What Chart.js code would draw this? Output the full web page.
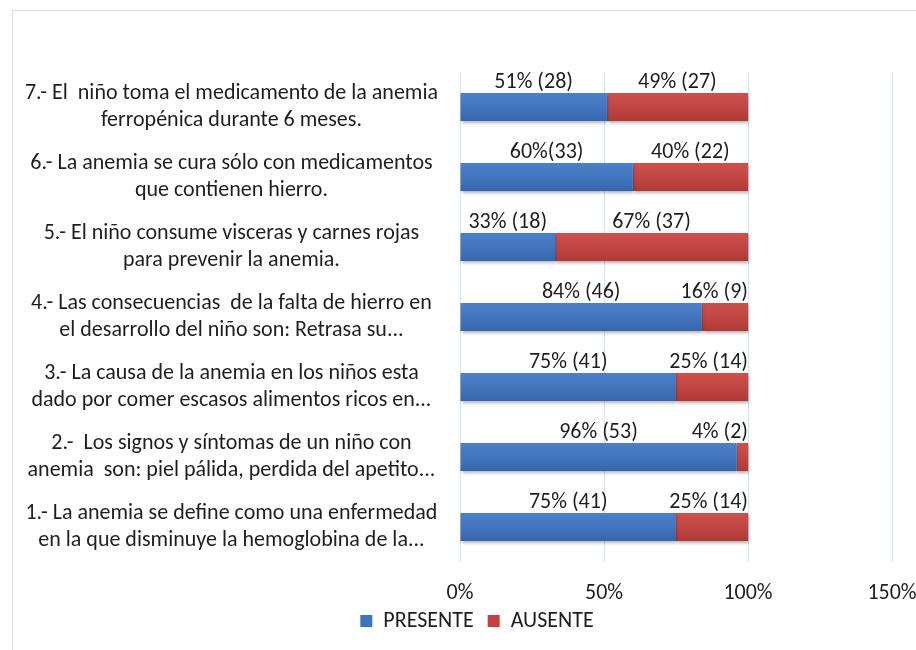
<!DOCTYPE html>
<html>
<head>
<meta charset="utf-8">
<script src="https://cdn.jsdelivr.net/npm/chart.js@4.4.0/dist/chart.umd.min.js"></script>
<style>
  html, body { margin: 0; padding: 0; background: #fff; }
  #wrap { width: 916px; height: 650px; position: relative; }
</style>
</head>
<body>
<div id="wrap"><canvas id="grafico"></canvas></div>
<script>
// preguntas (de arriba hacia abajo)
const preguntas = [
  ['7.- El  niño toma el medicamento de la anemia', 'ferropénica durante 6 meses.'],
  ['6.- La anemia se cura sólo con medicamentos', 'que contienen hierro.'],
  ['5.- El niño consume visceras y carnes rojas', 'para prevenir la anemia.'],
  ['4.- Las consecuencias  de la falta de hierro en', 'el desarrollo del niño son: Retrasa su...'],
  ['3.- La causa de la anemia en los niños esta', 'dado por comer escasos alimentos ricos en...'],
  ['2.-  Los signos y síntomas de un niño con', 'anemia  son: piel pálida, perdida del apetito...'],
  ['1.- La anemia se define como una enfermedad', 'en la que disminuye la hemoglobina de la...']
];

const presente = [51, 60, 33, 84, 75, 96, 75];
const ausente = [49, 40, 67, 16, 25, 4, 25];

const etiquetasPresente = ['51% (28)', '60%(33)', '33% (18)', '84% (46)', '75% (41)', '96% (53)', '75% (41)'];
const etiquetasAusente = ['49% (27)', '40% (22)', '67% (37)', '16% (9)', '25% (14)', '4% (2)', '25% (14)'];

const ticksX = [0, 50, 100, 150];

const fuente = "Carlito, Lato, 'Noto Sans', sans-serif";
const tam = 22;
const colorTexto = '#1e1e1e';

// marco exterior, sombra/brillo de barras y etiquetas encima de cada segmento
const extras = {
  id: 'extras',
  afterLayout(chart) {
    // leyenda algo corrida a la derecha y hacia arriba, como en el original
    if (chart.legend) {
      chart.legend.left += 12;
      chart.legend.right += 12;
      chart.legend.top -= 8;
      chart.legend.bottom -= 8;
    }
  },
  beforeDraw(chart) {
    const c = chart.ctx;
    c.save();
    c.strokeStyle = '#dcdcdc';
    c.lineWidth = 1;
    c.strokeRect(12.5, 10.5, 920, 660);
    c.restore();
  },
  beforeDatasetsDraw(chart) {
    const c = chart.ctx;
    c.save();
    c.shadowColor = 'rgba(0,0,0,0.3)';
    c.shadowBlur = 3;
    c.shadowOffsetX = 1;
    c.shadowOffsetY = 2;
  },
  afterDatasetsDraw(chart) {
    const c = chart.ctx;
    c.restore();
    // brillo vertical tipo Excel
    chart.data.datasets.forEach((ds, i) => {
      chart.getDatasetMeta(i).data.forEach(bar => {
        const top = bar.y - bar.height / 2;
        const g = c.createLinearGradient(0, top, 0, top + bar.height);
        g.addColorStop(0, 'rgba(255,255,255,0.08)');
        g.addColorStop(1, 'rgba(0,0,0,0.12)');
        c.fillStyle = g;
        c.fillRect(bar.base, top, bar.x - bar.base, bar.height);
      });
    });
    const limite = chart.scales.x.getPixelForValue(100);
    const textos = [etiquetasPresente, etiquetasAusente];
    c.save();
    c.font = tam + 'px ' + fuente;
    c.fillStyle = colorTexto;
    c.textBaseline = 'bottom';
    c.textAlign = 'left';
    chart.data.datasets.forEach((ds, i) => {
      chart.getDatasetMeta(i).data.forEach((bar, j) => {
        const t = textos[i][j];
        const w = c.measureText(t).width;
        let cx = (bar.x + bar.base) / 2;
        if (cx + w / 2 > limite) cx = limite - w / 2;
        c.fillText(t, cx - w / 2, bar.y - bar.height / 2);
      });
    });
    c.restore();
  }
};

const ctx = document.getElementById('grafico').getContext('2d');

new Chart(ctx, {
  type: 'bar',
  data: {
    labels: preguntas,
    datasets: [
      { label: 'PRESENTE', data: presente, backgroundColor: '#3c74c4' },
      { label: 'AUSENTE', data: ausente, backgroundColor: '#c8403b' }
    ]
  },
  options: {
    indexAxis: 'y',
    responsive: true,
    maintainAspectRatio: false,
    animation: false,
    barPercentage: 0.4,
    categoryPercentage: 1,
    layout: { padding: { top: 72, right: 0, left: 14, bottom: 0 } },
    scales: {
      x: {
        stacked: true,
        min: 0,
        max: 150,
        afterBuildTicks: s => { s.ticks = ticksX.map(v => ({ value: v })); },
        afterFit: s => {
          s.height = 42;
          s.paddingRight = 24;
        },
        ticks: {
          callback: v => v + '%',
          color: colorTexto,
          font: { family: fuente, size: tam },
          padding: 18
        },
        grid: { color: '#d6e0ef', drawTicks: false },
        border: { display: false }
      },
      y: {
        stacked: true,
        afterFit: s => { s.width = 446; },
        ticks: {
          crossAlign: 'center',
          color: colorTexto,
          font: { family: fuente, size: tam, lineHeight: 1.2 },
          padding: 22
        },
        grid: { display: false, drawTicks: false },
        border: { display: false }
      }
    },
    plugins: {
      legend: {
        position: 'bottom',
        labels: {
          boxWidth: 12,
          boxHeight: 12,
          color: colorTexto,
          font: { family: fuente, size: tam },
          padding: 14
        }
      },
      tooltip: { enabled: false }
    }
  },
  plugins: [extras]
});
</script>
</body>
</html>
